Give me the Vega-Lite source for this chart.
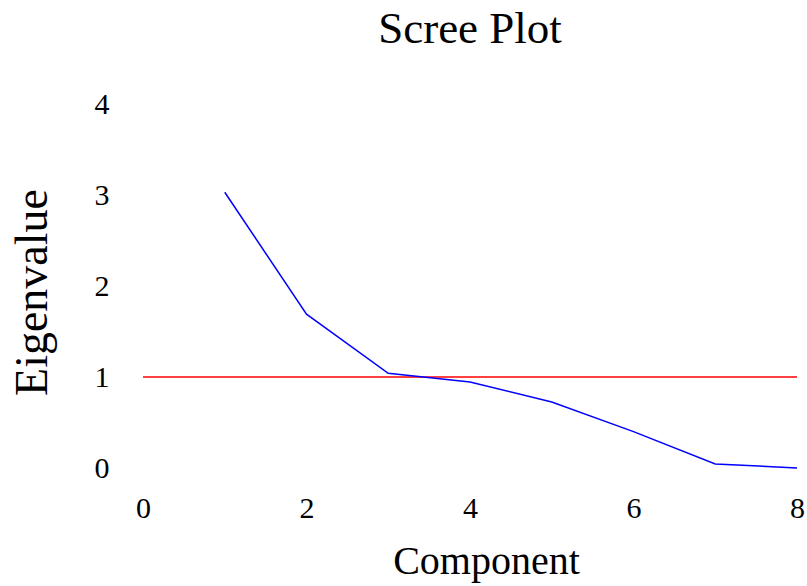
{
  "$schema": "https://vega.github.io/schema/vega-lite/v6.json",
  "width": 654,
  "height": 364,
  "autosize": "none",
  "padding": {"left": 143, "top": 104, "right": 10, "bottom": 118},
  "background": "white",
  "config": {
    "view": {"stroke": null},
    "font": "Liberation Serif"
  },
  "title": {
    "text": "Scree Plot",
    "font": "Liberation Serif",
    "fontSize": 45,
    "fontWeight": "normal",
    "color": "black",
    "anchor": "middle",
    "offset": 37
  },
  "datasets": {
    "eig": [
      {"component": 1, "eigenvalue": 3.03},
      {"component": 2, "eigenvalue": 1.69},
      {"component": 3, "eigenvalue": 1.04},
      {"component": 4, "eigenvalue": 0.945},
      {"component": 5, "eigenvalue": 0.725},
      {"component": 6, "eigenvalue": 0.40},
      {"component": 7, "eigenvalue": 0.045},
      {"component": 8, "eigenvalue": 0.0}
    ],
    "ref": [
      {"component": 0, "eigenvalue": 1},
      {"component": 8, "eigenvalue": 1}
    ]
  },
  "layer": [
    {
      "data": {"name": "ref"},
      "mark": {"type": "line", "color": "#ff0000", "strokeWidth": 1.5},
      "encoding": {
        "x": {"field": "component", "type": "quantitative"},
        "y": {"field": "eigenvalue", "type": "quantitative"}
      }
    },
    {
      "data": {"name": "eig"},
      "mark": {"type": "line", "color": "#0000ff", "strokeWidth": 1.5},
      "encoding": {
        "x": {
          "field": "component",
          "type": "quantitative",
          "scale": {"domain": [0, 8], "nice": false, "zero": false},
          "axis": {
            "title": "Component",
            "values": [0, 2, 4, 6, 8],
            "format": "d",
            "domain": false,
            "ticks": false,
            "grid": false,
            "labelFont": "Liberation Serif",
            "labelFontSize": 30,
            "labelColor": "black",
            "labelPadding": 25,
            "labelFlush": false,
            "titleFont": "Liberation Serif",
            "titleFontSize": 40,
            "titleFontWeight": "normal",
            "titleColor": "black",
            "titlePadding": 18,
            "titleX": 343
          }
        },
        "y": {
          "field": "eigenvalue",
          "type": "quantitative",
          "scale": {"domain": [0, 4], "nice": false},
          "axis": {
            "title": "Eigenvalue",
            "values": [0, 1, 2, 3, 4],
            "format": "d",
            "domain": false,
            "ticks": false,
            "grid": false,
            "labelFont": "Liberation Serif",
            "labelFontSize": 30,
            "labelColor": "black",
            "labelPadding": 34,
            "titleFont": "Liberation Serif",
            "titleFontSize": 46,
            "titleFontWeight": "normal",
            "titleColor": "black",
            "titlePadding": 38,
            "titleY": 188
          }
        }
      }
    }
  ]
}
